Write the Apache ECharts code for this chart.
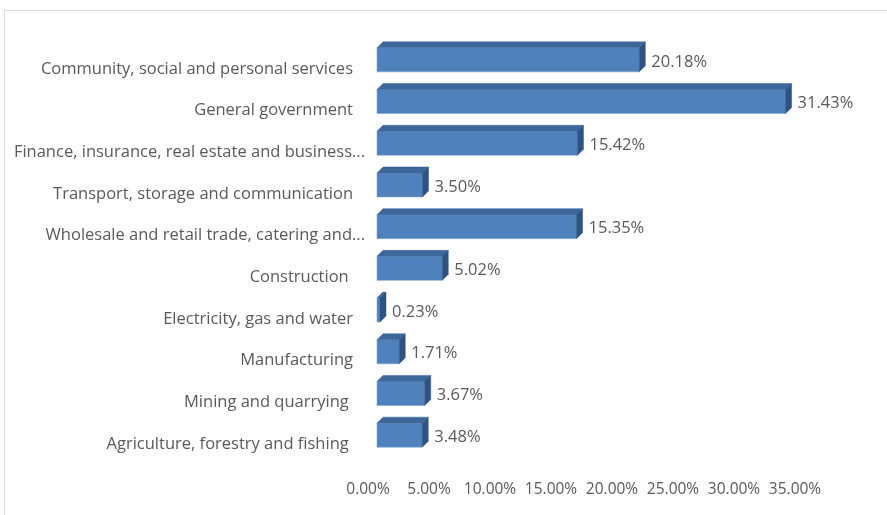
<!DOCTYPE html>
<html><head><meta charset="utf-8">
<script src="https://cdn.jsdelivr.net/npm/echarts@6/dist/echarts.min.js"></script>
<style>html,body{margin:0;padding:0;background:#fff}#c{width:887px;height:515px}</style>
</head><body><div id="c"></div>
<script>
var categories = [
  "Agriculture, forestry and fishing ",
  "Mining and quarrying ",
  "Manufacturing",
  "Electricity, gas and water",
  "Construction ",
  "Wholesale and retail trade, catering and...",
  "Transport, storage and communication",
  "Finance, insurance, real estate and business...",
  "General government",
  "Community, social and personal services"
];
var shares = [3.48, 3.67, 1.71, 0.23, 5.02, 15.35, 3.50, 15.42, 31.43, 20.18];
var tickValues = [0, 5, 10, 15, 20, 25, 30, 35];

var FONT = '"Open Sans"';
var FS = 16.5;
var TXT = '#595959';
var chart = echarts.init(document.getElementById('c'));
var DX = 6, DY = 6;
chart.setOption({
  animation: false,
  graphic: [{type: 'rect', shape: {x: 4.5, y: 10.5, width: 900, height: 520}, style: {fill: 'none', stroke: '#d9d9d9', lineWidth: 1}, silent: true, z: -1}],
  grid: [
    {left: 377, top: 39, width: 455, height: 417},
    {left: 368, top: 48, width: 427, height: 417}
  ],
  xAxis: [
    {gridIndex: 0, type: 'value', min: 0, max: 35, show: false},
    {gridIndex: 1, type: 'value', min: 0, max: 35, interval: 5,
     axisLine: {show: false}, axisTick: {show: false}, splitLine: {show: false},
     axisLabel: {margin: 17, color: TXT, fontFamily: FONT, fontSize: 15.5,
       formatter: function (v) { return v.toFixed(2) + '%'; }}}
  ],
  yAxis: [
    {gridIndex: 0, type: 'category', data: categories, show: false},
    {gridIndex: 1, type: 'category', data: categories,
     axisLine: {show: false}, axisTick: {show: false},
     axisLabel: {margin: 3, color: TXT, fontFamily: FONT, fontSize: FS,
       formatter: function (v) {
         return v.slice(-3) === '...' ? '{a|' + v + '}' : '{b|' + v + '}';
       },
       rich: {
         a: {color: TXT, fontFamily: FONT, fontSize: FS},
         b: {color: TXT, fontFamily: FONT, fontSize: FS, padding: [0, 12, 0, 0]}
       }}}
  ],
  series: [{
    type: 'custom',
    xAxisIndex: 0, yAxisIndex: 0,
    data: shares.map(function (v, i) { return [v, i]; }),
    encode: {x: 0, y: 1},
    renderItem: function (params, api) {
      var v = api.value(0), i = api.value(1);
      var p0 = api.coord([0, i]), p1 = api.coord([v, i]);
      var h = 24;
      var x0 = p0[0], x1 = p1[0], yt = p0[1] - h / 2, yb = p0[1] + h / 2;
      return {type: 'group', children: [
        {type: 'rect', shape: {x: x0, y: yt, width: x1 - x0, height: h},
         style: {fill: '#4F81BD', stroke: '#7FA3D0', lineWidth: 0.6}},
        {type: 'polygon', shape: {points: [[x0, yt], [x0 + DX, yt - DY], [x1 + DX, yt - DY], [x1, yt]]},
         style: {fill: '#3D679B', stroke: '#3D679B', lineWidth: 0.5}},
        {type: 'polygon', shape: {points: [[x1, yt], [x1 + DX, yt - DY], [x1 + DX, yb - DY], [x1, yb]]},
         style: {fill: '#2F5381', stroke: '#2F5381', lineWidth: 0.5}},
        {type: 'text', style: {x: x1 + DX + 6, y: p0[1] + 2, text: v.toFixed(2) + '%',
          fill: TXT, font: FS + 'px ' + FONT, textVerticalAlign: 'middle', textAlign: 'left', verticalAlign: 'middle', align: 'left'}}
      ]};
    }
  }]
});
</script></body></html>
